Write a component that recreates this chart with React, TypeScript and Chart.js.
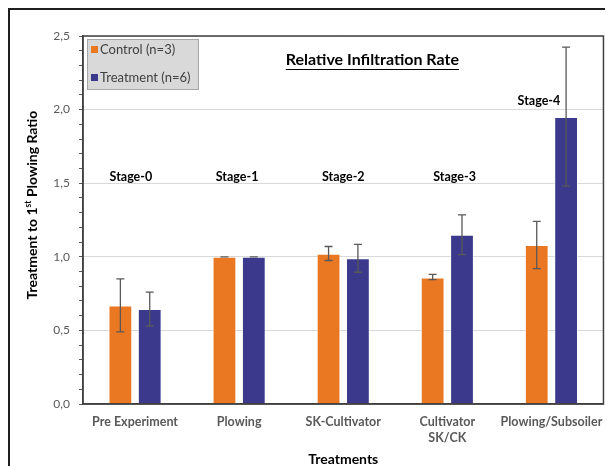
import React, { useEffect, useRef } from "react";
import { Chart, registerables } from "chart.js";
Chart.register(...registerables);

const FONT = "Lato, 'Open Sans', sans-serif";

const categories: (string | string[])[] = [
  "Pre Experiment",
  "Plowing",
  "SK-Cultivator",
  ["Cultivator", "SK/CK"],
  "Plowing/Subsoiler",
];
const controlLabel = "Control (n=3)";
const treatmentLabel = "Treatment (n=6)";
const controlValues = [0.67, 1.0, 1.02, 0.86, 1.08];
const controlErrLow = [0.49, 1.0, 0.975, 0.845, 0.92];
const controlErrHigh = [0.85, 1.0, 1.07, 0.88, 1.24];
const treatmentValues = [0.645, 1.0, 0.99, 1.15, 1.95];
const treatmentErrLow = [0.53, 1.0, 0.895, 1.015, 1.48];
const treatmentErrHigh = [0.76, 1.0, 1.085, 1.285, 2.425];
const stageLabels = ["Stage-0", "Stage-1", "Stage-2", "Stage-3", "Stage-4"];
const stageHeights = [1.545, 1.545, 1.545, 1.545, 2.06];
// annotation anchor along the category axis (category index units)
const stageAnchors = [-0.04, 0.98, 2.0, 3.07, 3.88];
const chartTitle = "Relative Infiltration Rate";
const xTitle = "Treatments";
const yTitleParts = ["Treatment to 1", "st", " Plowing Ratio"];

const ORANGE = "#EA7722";
const NAVY = "#3A398B";

const isHalf = (v: number) => Math.abs(v * 2 - Math.round(v * 2)) < 1e-6;

const errLows = [controlErrLow, treatmentErrLow];
const errHighs = [controlErrHigh, treatmentErrHigh];

const extrasPlugin = {
  id: "extras",
  afterDatasetsDraw(chart: any) {
    const ctx = chart.ctx;
    const y = chart.scales.y;
    const x = chart.scales.x;
    const ca = chart.chartArea;
    ctx.save();
    // error bars
    ctx.strokeStyle = "#595959";
    ctx.lineWidth = 1.3;
    for (let d = 0; d < 2; d++) {
      const meta = chart.getDatasetMeta(d);
      meta.data.forEach((el: any, i: number) => {
        const yh = y.getPixelForValue(errHighs[d][i]);
        const yl = y.getPixelForValue(errLows[d][i]);
        ctx.beginPath();
        ctx.moveTo(el.x, yh);
        ctx.lineTo(el.x, yl);
        ctx.moveTo(el.x - 4, yh);
        ctx.lineTo(el.x + 4, yh);
        ctx.moveTo(el.x - 4, yl);
        ctx.lineTo(el.x + 4, yl);
        ctx.stroke();
      });
    }
    // plot frame
    ctx.strokeStyle = "#404040";
    ctx.lineWidth = 1.5;
    ctx.strokeRect(ca.left, ca.top, ca.right - ca.left, ca.bottom - ca.top);

    // stage labels
    ctx.fillStyle = "#000";
    ctx.font = `bold 12.5px ${FONT}`;
    ctx.textAlign = "center";
    ctx.textBaseline = "middle";
    const step = x.getPixelForValue(1) - x.getPixelForValue(0);
    stageLabels.forEach((s, i) => {
      ctx.fillText(
        s,
        x.getPixelForValue(0) + stageAnchors[i] * step,
        y.getPixelForValue(stageHeights[i])
      );
    });

    // title
    ctx.font = `bold 16px ${FONT}`;
    const tx = ca.left + (ca.right - ca.left) * 0.556;
    const ty = ca.top + 24;
    ctx.fillText(chartTitle, tx, ty);
    const tw = ctx.measureText(chartTitle).width;
    ctx.beginPath();
    ctx.lineWidth = 1.2;
    ctx.strokeStyle = "#000";
    ctx.moveTo(tx - tw / 2, ty + 9.5);
    ctx.lineTo(tx + tw / 2, ty + 9.5);
    ctx.stroke();

    // legend box
    const lx = ca.left + 4;
    const ly = ca.top + 3;
    ctx.fillStyle = "#D9D9D9";
    ctx.fillRect(lx, ly, 111, 50);
    ctx.strokeStyle = "#A6A6A6";
    ctx.lineWidth = 1;
    ctx.strokeRect(lx + 0.5, ly + 0.5, 111, 50);
    const items = [
      [controlLabel, ORANGE],
      [treatmentLabel, NAVY],
    ];
    ctx.font = `13px ${FONT}`;
    ctx.textAlign = "left";
    items.forEach(([label, color], k) => {
      const iy = ly + 11 + k * 28;
      ctx.fillStyle = color;
      ctx.fillRect(lx + 4, iy - 4, 7, 7);
      ctx.fillStyle = "#404040";
      ctx.fillText(label, lx + 13, iy);
    });

    // y title with superscript
    ctx.fillStyle = "#000";
    ctx.translate(22, (ca.top + ca.bottom) / 2 - 15);
    ctx.rotate(-Math.PI / 2);
    const big = `bold 14px ${FONT}`;
    const small = `bold 8.5px ${FONT}`;
    ctx.font = big;
    const w0 = ctx.measureText(yTitleParts[0]).width;
    const w2 = ctx.measureText(yTitleParts[2]).width;
    ctx.font = small;
    const w1 = ctx.measureText(yTitleParts[1]).width;
    let cx = -(w0 + w1 + w2) / 2;
    ctx.textBaseline = "middle";
    ctx.font = big;
    ctx.fillText(yTitleParts[0], cx, 0);
    cx += w0;
    ctx.font = small;
    ctx.fillText(yTitleParts[1], cx, -4);
    cx += w1;
    ctx.font = big;
    ctx.fillText(yTitleParts[2], cx, 0);
    ctx.restore();
  },
};

export default function App() {
  const ref = useRef<HTMLCanvasElement>(null);
  useEffect(() => {
    document.documentElement.style.overflow = "hidden";
    const chart = new Chart(ref.current!, {
      type: "bar",
      data: {
        labels: categories as any,
        datasets: [
          {
            label: controlLabel,
            data: controlValues,
            backgroundColor: ORANGE,
            borderColor: "rgba(255,255,255,0.5)",
            borderWidth: 1,
            categoryPercentage: 0.564,
            barPercentage: 0.81,
          },
          {
            label: treatmentLabel,
            data: treatmentValues,
            backgroundColor: NAVY,
            borderColor: "rgba(255,255,255,0.4)",
            borderWidth: 1,
            categoryPercentage: 0.564,
            barPercentage: 0.81,
          },
        ],
      },
      options: {
        animation: false,
        responsive: true,
        maintainAspectRatio: false,
        layout: { padding: { top: 26, right: 7, left: 0, bottom: 0 } },
        plugins: { legend: { display: false }, tooltip: { enabled: false } },
        scales: {
          x: {
            afterFit: (s: any) => {
              s.height = 62;
            },
            grid: { display: false, drawTicks: false },
            border: { display: true, color: "#404040", width: 1.5 },
            ticks: {
              color: "#595959",
              font: { family: FONT, size: 12.5, weight: "bold", lineHeight: 1.3 },
              padding: 10,
              maxRotation: 0,
              autoSkip: false,
            },
            title: {
              display: true,
              text: xTitle,
              color: "#000",
              font: { family: FONT, size: 14, weight: "bold", lineHeight: 1 },
              padding: { top: 0, bottom: 0 },
            },
          },
          y: {
            min: 0,
            max: 2.5,
            afterFit: (s: any) => {
              s.width = 73;
            },
            ticks: {
              stepSize: 0.1,
              autoSkip: false,
              color: "#595959",
              font: { family: FONT, size: 12 },
              padding: 9,
              callback: (v: any) => {
                const n = Number(v);
                return isHalf(n) ? n.toFixed(1).replace(".", ",") : "";
              },
            },
            grid: {
              color: (c: any) => (isHalf(c.tick.value) ? "#D9D9D9" : "rgba(0,0,0,0)"),
              tickColor: "#595959",
              tickLength: 4,
              drawTicks: true,
              lineWidth: 1,
            },
            border: { display: true, color: "#404040", width: 1.5 },
          },
        },
      },
      plugins: [extrasPlugin],
    });
    return () => chart.destroy();
  }, []);
  return (
    <div
      style={{
        position: "relative",
        width: 605,
        height: 458,
        borderTop: "2px solid #1f1f1f",
        borderLeft: "2px solid #1f1f1f",
        boxSizing: "border-box",
        overflow: "hidden",
        background: "#fff",
      }}
    >
      <div style={{ position: "absolute", left: 0, top: 0, width: 603, height: 456 }}>
        <canvas ref={ref} />
      </div>
    </div>
  );
}
